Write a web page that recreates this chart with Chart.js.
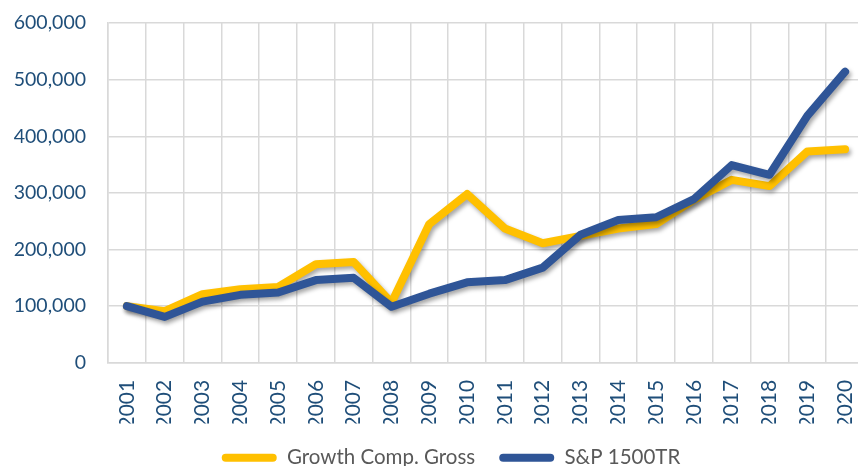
<!DOCTYPE html>
<html>
<head>
<meta charset="utf-8">
<script src="https://cdn.jsdelivr.net/npm/chart.js@4/dist/chart.umd.min.js"></script>
<style>
    html, body { margin: 0; padding: 0; background: #ffffff; overflow: hidden; }
    #wrap { position: relative; width: 902px; height: 476px; }
</style>
</head>
<body>
<div id="wrap"><canvas id="grafico"></canvas></div>
<script>
// DADOS DO GRÁFICO
const anos = ["2001", "2002", "2003", "2004", "2005", "2006", "2007", "2008", "2009", "2010",
              "2011", "2012", "2013", "2014", "2015", "2016", "2017", "2018", "2019", "2020"];

const growthCompGross = [100000, 91000, 121000, 130000, 134000, 174000, 178000, 106000, 245000, 298000,
                         237000, 211000, 224000, 237000, 245000, 288000, 323000, 312000, 373000, 377000];

const sp1500tr = [100000, 81000, 108000, 120000, 124000, 146000, 150000, 99000, 122000, 142000,
                  146000, 168000, 226000, 252000, 257000, 289000, 349000, 332000, 436000, 514000];

const ticksY = [0, 100000, 200000, 300000, 400000, 500000, 600000];


// SOMBRA DAS LINHAS
const sombraLinhas = {
    id: "sombraLinhas",
    beforeDatasetDraw(chart) {
        const ctx = chart.ctx;
        ctx.save();
        ctx.shadowColor = "rgba(0, 0, 0, 0.35)";
        ctx.shadowBlur = 4;
        ctx.shadowOffsetX = 2;
        ctx.shadowOffsetY = 3;
    },
    afterDatasetDraw(chart) {
        chart.ctx.restore();
    }
};

// DESLOCA A LEGENDA PARA A DIREITA
const ajusteLegenda = {
    id: "ajusteLegenda",
    afterLayout(chart) {
        chart.legend.left += 19;
        chart.legend.right += 19;
    }
};


// CRIA GRÁFICO
new Chart(document.getElementById("grafico"), {
    type: "line",
    data: {
        labels: anos,
        datasets: [
            {
                label: "Growth Comp. Gross",
                data: growthCompGross,
                borderColor: "#FFC000",
                backgroundColor: "#FFC000",
                borderWidth: 8,
                order: 2,
            },
            {
                label: "S&P 1500TR",
                data: sp1500tr,
                borderColor: "#2F5597",
                backgroundColor: "#2F5597",
                borderWidth: 8,
                order: 1,
            },
        ],
    },
    options: {
        responsive: true,
        maintainAspectRatio: false,
        animation: false,
        devicePixelRatio: 1,
        layout: {
            padding: { top: 23, right: 38, left: 0, bottom: -2 }
        },
        elements: {
            point: { radius: 0 },
            line: { tension: 0, borderCapStyle: "round", borderJoinStyle: "round" }
        },
        plugins: {
            tooltip: { enabled: false },
            legend: {
                position: "bottom",
                labels: {
                    sort: (a, b) => a.datasetIndex - b.datasetIndex,
                    boxWidth: 55,
                    boxHeight: 8,
                    useBorderRadius: true,
                    borderRadius: 4,
                    padding: 24,
                    color: "#595959",
                    font: { family: "Lato", size: 20.5 },
                    generateLabels: (chart) => chart.data.datasets.map((ds, i) => ({
                        text: ds.label,
                        fillStyle: ds.borderColor,
                        strokeStyle: ds.borderColor,
                        lineWidth: 0,
                        datasetIndex: i,
                        borderRadius: 4,
                        fontColor: "#595959",
                    })),
                },
            },
        },
        scales: {
            x: {
                offset: true,
                afterFit: (scale) => { scale.height = scale.height - 22; },
                grid: { offset: true, color: "#D9D9D9", lineWidth: 1.5, drawTicks: false },
                border: { color: "#D9D9D9", width: 1.5 },
                ticks: {
                    minRotation: 90,
                    maxRotation: 90,
                    padding: 17,
                    autoSkip: false,
                    color: "#1F4E79",
                    font: { family: "Lato", size: 21 },
                },
            },
            y: {
                min: 0,
                max: 600000,
                afterFit: (scale) => {
                    scale.width = 108;
                    scale.paddingTop = 0;
                    scale.paddingBottom = 0;
                },
                afterBuildTicks: (scale) => {
                    scale.ticks = ticksY.map((v) => ({ value: v }));
                },
                grid: { color: "#D9D9D9", lineWidth: 1.5, drawTicks: false },
                border: { color: "#D9D9D9", width: 1.5 },
                ticks: {
                    padding: 22,
                    color: "#1F4E79",
                    font: { family: "Lato", size: 19.5 },
                    callback: (value) => Number(value).toLocaleString("en-US"),
                },
            },
        },
    },
    plugins: [sombraLinhas, ajusteLegenda],
});
</script>
</body>
</html>
